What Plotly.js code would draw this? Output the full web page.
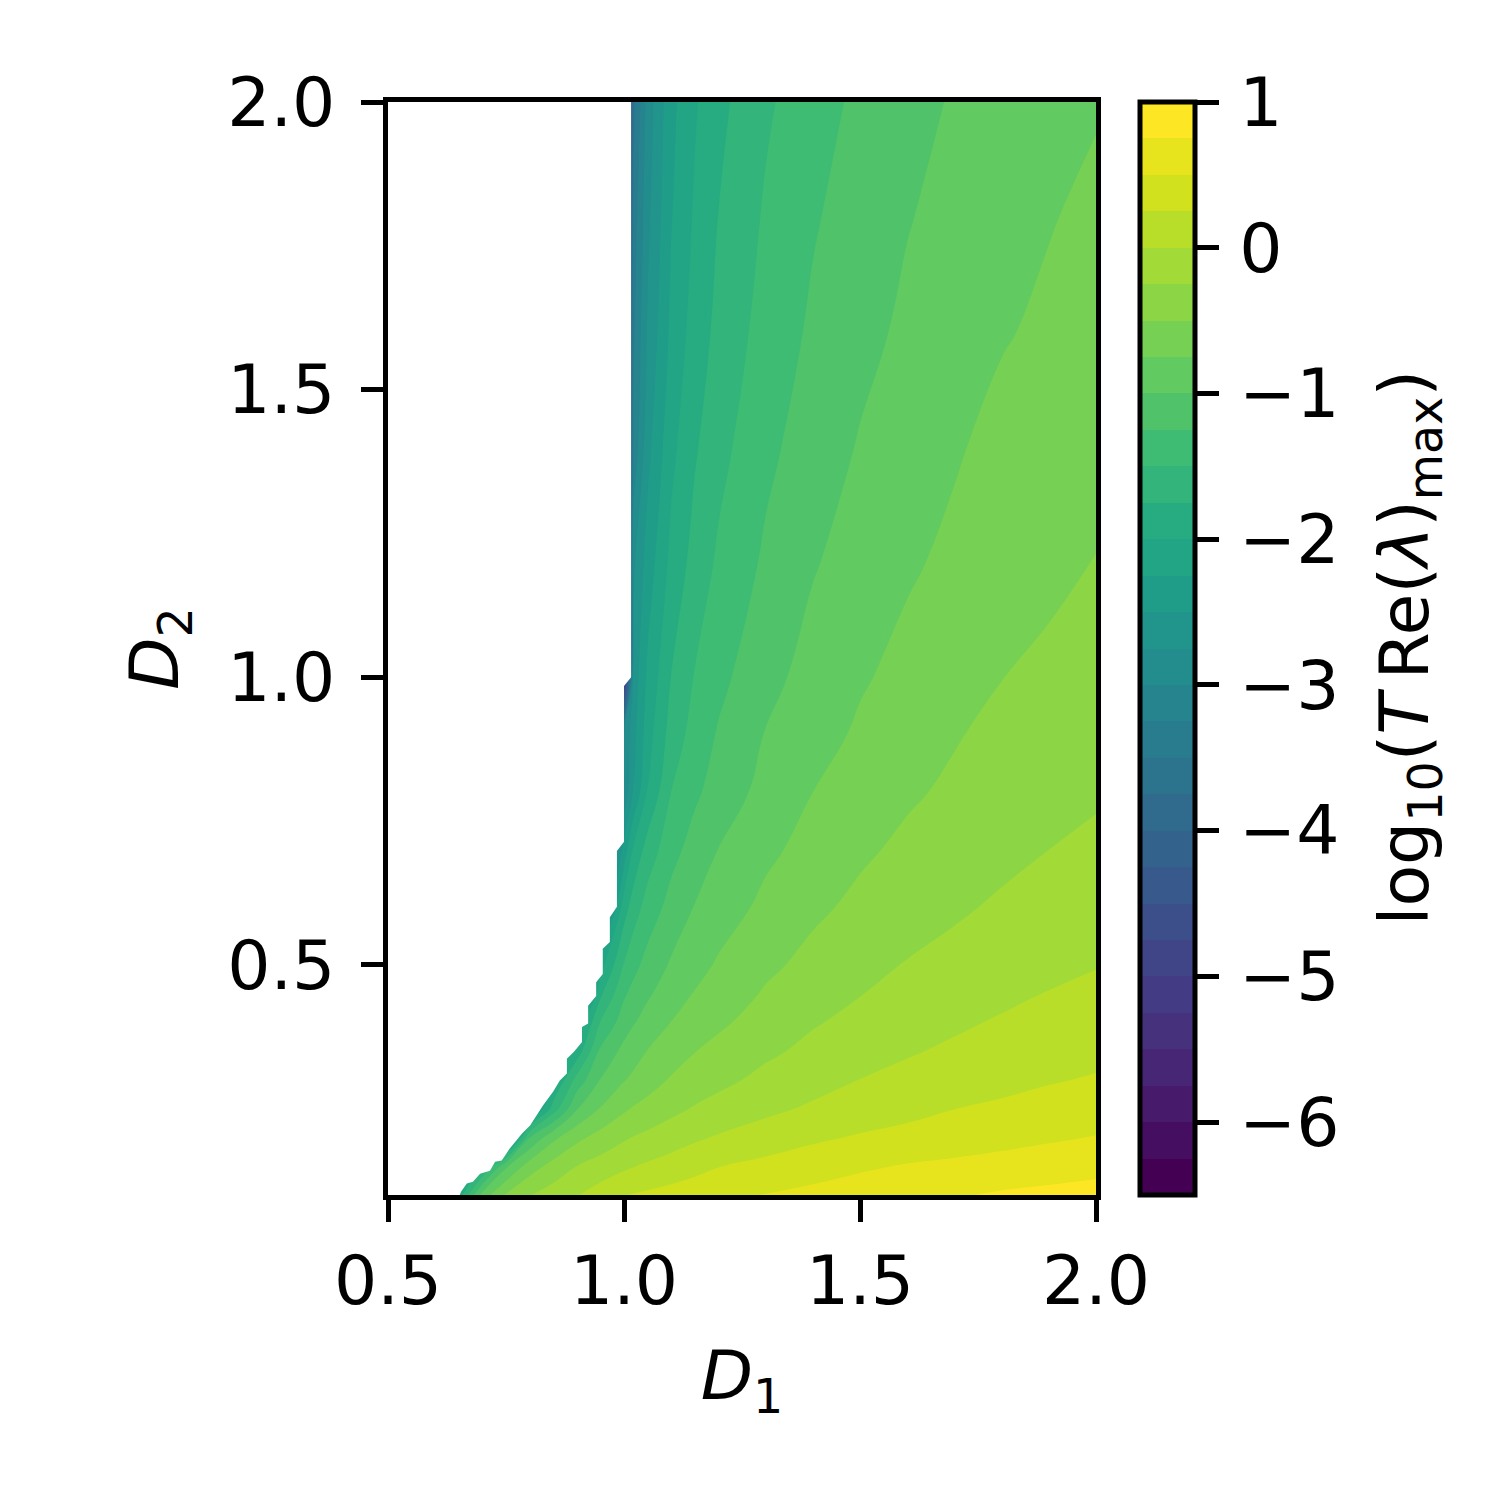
<!DOCTYPE html>
<html>
<head>
<meta charset="utf-8">
<script src="https://cdn.plot.ly/plotly-3.0.1.min.js"></script>
<style>html,body{margin:0;padding:0;background:#fff;}#chart{width:1500px;height:1500px;}</style>
</head>
<body>
<div id="chart"></div>
<script>
// D1 grid (columns) and D2 grid (rows)
const D1 = [0.5, 0.6, 0.65, 0.7, 0.75, 0.8, 0.85, 0.9, 0.95, 1.0, 1.02, 1.05, 1.1, 1.15, 1.2, 1.3, 1.4, 1.5, 1.6, 1.7, 1.8, 1.9, 2.0];
const D2 = [0.1, 0.15, 0.2, 0.25, 0.3, 0.35, 0.4, 0.45, 0.5, 0.6, 0.7, 0.8, 0.9, 1.0, 1.2, 1.4, 1.6, 1.8, 2.0];

// log10(T Re(lambda)_max), one array per D2 row (values left of the stability boundary are masked)
const row_010 = [-3, -3, -1.9, -0.89, -0.473, -0.263, -0.134, -0.011, 0.114, 0.239, 0.264, 0.292, 0.337, 0.382, 0.428, 0.511, 0.565, 0.619, 0.673, 0.726, 0.78, 0.817, 0.86];
const row_015 = [-3, -3, -3, -1.87, -1.04, -0.624, -0.41, -0.248, -0.148, -0.048, -0.008, 0.036, 0.104, 0.173, 0.242, 0.318, 0.391, 0.464, 0.518, 0.553, 0.589, 0.625, 0.66];
const row_020 = [-3, -3, -3, -3, -2.69, -1.26, -0.813, -0.566, -0.411, -0.283, -0.239, -0.193, -0.116, -0.039, 0.023, 0.114, 0.206, 0.275, 0.323, 0.372, 0.42, 0.468, 0.51];
const row_025 = [-3, -3, -3, -3, -3, -2.48, -1.636, -1.02, -0.735, -0.538, -0.479, -0.417, -0.314, -0.228, -0.17, -0.055, 0.037, 0.107, 0.178, 0.248, 0.291, 0.333, 0.375];
const row_030 = [-3, -3, -3, -3, -3, -3, -2.06, -1.408, -0.991, -0.763, -0.698, -0.607, -0.476, -0.393, -0.31, -0.188, -0.091, 0.004, 0.062, 0.12, 0.178, 0.232, 0.27];
const row_035 = [-3, -3, -3, -3, -3, -3, -2.4, -1.9, -1.204, -0.93, -0.853, -0.742, -0.624, -0.506, -0.434, -0.294, -0.192, -0.106, -0.021, 0.037, 0.087, 0.136, 0.186];
const row_040 = [-3, -3, -3, -3, -3, -3, -3, -2.21, -1.49, -1.125, -1.018, -0.91, -0.745, -0.643, -0.541, -0.398, -0.27, -0.186, -0.111, -0.036, 0.024, 0.069, 0.114];
const row_045 = [-4, -4, -4, -4, -4, -4, -4, -3.1, -1.8, -1.286, -1.176, -1.034, -0.874, -0.735, -0.643, -0.475, -0.366, -0.257, -0.187, -0.119, -0.052, 0.009, 0.05];
const row_050 = [-4, -4, -4, -4, -4, -4, -4, -4, -2.1, -1.483, -1.327, -1.164, -0.97, -0.836, -0.72, -0.551, -0.43, -0.329, -0.236, -0.18, -0.107, -0.06, -0.01];
const row_060 = [-4, -4, -4, -4, -4, -4, -4, -4, -3.0, -1.865, -1.626, -1.398, -1.16, -0.989, -0.877, -0.689, -0.548, -0.446, -0.365, -0.283, -0.218, -0.164, -0.11];
const row_070 = [-4, -4, -4, -4, -4, -4, -4, -4, -3.6, -2.4, -1.96, -1.642, -1.335, -1.149, -0.996, -0.804, -0.662, -0.539, -0.452, -0.381, -0.31, -0.25, -0.2];
const row_080 = [-4, -4, -4, -4, -4, -4, -4, -4, -4, -2.95, -2.483, -1.985, -1.498, -1.295, -1.143, -0.919, -0.75, -0.642, -0.533, -0.459, -0.399, -0.34, -0.28];
const row_090 = [-6, -6, -6, -6, -6, -6, -6, -6, -6, -3.0, -2.593, -2.108, -1.646, -1.398, -1.227, -0.989, -0.843, -0.714, -0.616, -0.517, -0.44, -0.39, -0.342];
const row_100 = [-6, -6, -6, -6, -6, -6, -6, -6, -6, -5.2, -2.67, -2.2, -1.745, -1.484, -1.318, -1.075, -0.911, -0.777, -0.68, -0.592, -0.504, -0.45, -0.398];
const row_120 = [-6, -6, -6, -6, -6, -6, -6, -6, -6, -6, -2.8, -2.39, -1.93, -1.655, -1.46, -1.21, -1.02, -0.899, -0.783, -0.699, -0.627, -0.556, -0.494];
const row_140 = [-6, -6, -6, -6, -6, -6, -6, -6, -6, -6, -3.2, -2.58, -2.07, -1.78, -1.58, -1.31, -1.13, -0.982, -0.88, -0.775, -0.68, -0.63, -0.575];
const row_160 = [-6, -6, -6, -6, -6, -6, -6, -6, -6, -6, -3.3, -2.72, -2.19, -1.89, -1.68, -1.40, -1.21, -1.07, -0.954, -0.862, -0.77, -0.706, -0.65];
const row_180 = [-6, -6, -6, -6, -6, -6, -6, -6, -6, -6, -3.4, -2.81, -2.265, -1.965, -1.746, -1.469, -1.275, -1.14, -1.013, -0.927, -0.846, -0.764, -0.70];
const row_200 = [-6, -6, -6, -6, -6, -6, -6, -6, -6, -6, -3.6, -2.89, -2.32, -2.03, -1.82, -1.54, -1.35, -1.199, -1.08, -0.978, -0.89, -0.814, -0.77];

// Stability boundary (no growth to the left), top to bottom
const boundaryD1 = [1.015, 1.015, 1.0, 1.0, 0.985, 0.985, 0.970, 0.970, 0.955, 0.955, 0.941, 0.941, 0.924, 0.924, 0.911, 0.911, 0.894, 0.879, 0.879, 0.864, 0.850, 0.828, 0.801, 0.784, 0.758, 0.741, 0.727, 0.716, 0.695, 0.680, 0.667, 0.655, 0.652];
const boundaryD2 = [2.0, 1.0, 0.985, 0.714, 0.698, 0.601, 0.583, 0.540, 0.528, 0.484, 0.470, 0.446, 0.429, 0.398, 0.392, 0.366, 0.349, 0.337, 0.311, 0.299, 0.280, 0.255, 0.221, 0.207, 0.181, 0.160, 0.158, 0.142, 0.137, 0.123, 0.120, 0.106, 0.1];

// Colour bar ticks
const cbTickVals = [1, 0, -1, -2, -3, -4, -5, -6];
const cbTickText = ['1', '0', '\u22121', '\u22122', '\u22123', '\u22124', '\u22125', '\u22126'];
const axisTicks = [0.5, 1.0, 1.5, 2.0];
const cbTitle = 'log<sub>10</sub>(<i>T</i>\u2009Re(<i>\u03bb</i>)<sub>max</sub>)';

const zRows = [row_010, row_015, row_020, row_025, row_030, row_035, row_040, row_045, row_050, row_060, row_070, row_080, row_090, row_100, row_120, row_140, row_160, row_180, row_200];

const xRange = [0.5, 2.0];
const yRange = [0.1, 2.0];

const FONT = 'DejaVu Sans, Arial, sans-serif';
const FS = 68;

const contour = {
  type: 'contour',
  x: D1, y: D2, z: zRows,
  colorscale: 'Viridis',
  zmin: -6.5, zmax: 1.0, zauto: false,
  autocontour: false,
  contours: {start: -6.25, end: 0.75, size: 0.25, coloring: 'fill', showlines: false},
  line: {width: 0, smoothing: 1.3},
  hoverinfo: 'skip',
  colorbar: {
    thickness: 55, thicknessmode: 'pixels',
    len: 1, lenmode: 'fraction',
    x: (1140 - 388) / 708, xanchor: 'left', xpad: 0,
    y: 0.5, yanchor: 'middle', ypad: 0,
    outlinewidth: 5, outlinecolor: '#000',
    borderwidth: 0,
    ticks: 'outside', ticklen: 22, tickwidth: 5, tickcolor: '#000',
    tickmode: 'array', tickvals: cbTickVals,
    ticktext: cbTickText.map(function (t) { return '\u200a' + t; }),
    tickfont: {family: FONT, size: FS, color: '#000'}
  }
};

const mask = {
  type: 'scatter', mode: 'lines',
  x: [xRange[0]].concat(boundaryD1, [xRange[0]]),
  y: [yRange[1]].concat(boundaryD2, [yRange[0]]),
  fill: 'toself', fillcolor: '#ffffff',
  line: {width: 0, color: '#ffffff'},
  hoverinfo: 'skip', showlegend: false
};

const axisCommon = {
  showgrid: false, zeroline: false,
  showline: true, mirror: true, linewidth: 5, linecolor: '#000',
  ticks: 'outside', ticklen: 22, tickwidth: 5, tickcolor: '#000',
  tickmode: 'array', tickvals: axisTicks, tickformat: '.1f',
  tickfont: {family: FONT, size: FS, color: '#000'},
  layer: 'above traces'
};

const layout = {
  width: 1500, height: 1500,
  margin: {l: 388, r: 404, t: 102, b: 305, pad: 0},
  paper_bgcolor: '#fff', plot_bgcolor: '#fff',
  showlegend: false,
  xaxis: Object.assign({}, axisCommon, {range: xRange, title: {text: '<i>D</i><sub>1</sub>', font: {family: FONT, size: FS, color: '#000'}, standoff: 34}}),
  yaxis: Object.assign({}, axisCommon, {range: yRange, ticklabelstandoff: 12, title: {text: '<i>D</i><sub>2</sub>', font: {family: FONT, size: FS, color: '#000'}, standoff: 28}}),
  annotations: [{
    text: cbTitle, xref: 'paper', yref: 'paper',
    x: (1408 - 388) / 708, y: 0.5, xanchor: 'center', yanchor: 'middle',
    textangle: -90, showarrow: false,
    font: {family: FONT, size: FS, color: '#000'}
  }]
};

Plotly.newPlot('chart', [contour, mask], layout, {staticPlot: true, displayModeBar: false});
</script>
</body>
</html>
